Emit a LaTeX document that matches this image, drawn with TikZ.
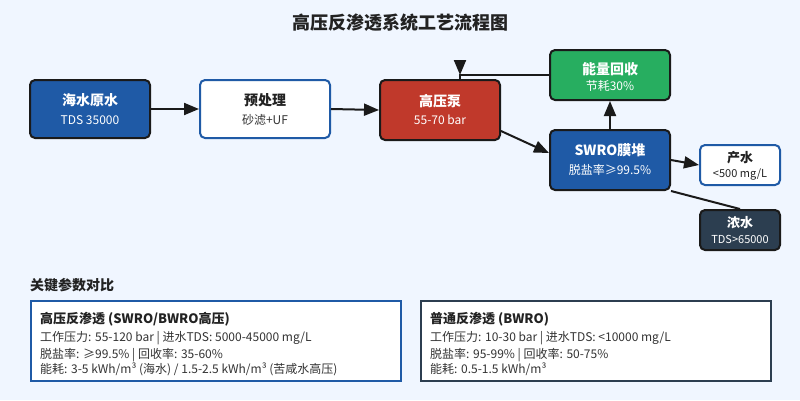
\documentclass[tikz,border=0pt]{standalone}
\usepackage{fontspec}
\setmainfont{Noto Sans CJK SC}
\usetikzlibrary{arrows.meta,calc}
\definecolor{bg}{HTML}{F0F6FF}
\definecolor{cblue}{HTML}{1F5AA6}
\definecolor{cred}{HTML}{C0392B}
\definecolor{cgreen}{HTML}{27AE60}
\definecolor{cdark}{HTML}{2C3E50}
\definecolor{cedge}{HTML}{1A1A1A}
\definecolor{ctext}{HTML}{222222}
\definecolor{cline}{HTML}{333333}
\begin{document}
\begin{tikzpicture}[x=1pt,y=-1pt,
  box/.style={draw=cedge,line width=2pt,rounded corners=5pt,inner sep=0pt},
  bluebox/.style={box,fill=cblue},
  whitebox/.style={box,fill=white,draw=cblue},
  redbox/.style={box,fill=cred},
  greenbox/.style={box,fill=cgreen},
  darkbox/.style={box,fill=cdark},
  ttl/.style={font=\bfseries\fontsize{14}{16}\selectfont,inner sep=0pt},
  sub/.style={font=\fontsize{12}{14}\selectfont,inner sep=0pt},
  ttls/.style={font=\bfseries\fontsize{13}{15}\selectfont,inner sep=0pt},
  subs/.style={font=\fontsize{11}{13}\selectfont,inner sep=0pt},
  conn/.style={draw=cedge,line width=2pt},
  arr/.style={conn,-{Triangle[length=15pt,width=12pt]}},
  panel/.style={draw,line width=2pt,fill=white,inner sep=0pt},
  ptitle/.style={font=\bfseries\fontsize{13}{15}\selectfont,anchor=base west,inner sep=0pt,text=ctext},
  pline/.style={font=\fontsize{12}{14}\selectfont,anchor=base west,inner sep=0pt,text=cline},
]
\fill[bg] (0,0) rectangle (800,400);
\useasboundingbox (0,0) rectangle (800,400);

\node[font=\bfseries\fontsize{18}{20}\selectfont,text=ctext,inner sep=0pt] (title) at (400,23) {高压反渗透系统工艺流程图};

% boxes
\node[bluebox,minimum width=120pt,minimum height=58pt] (sea) at (90,109) {};
\node[ttl,text=white,yshift=9pt] (seat) at (sea.center) {海水原水};
\node[sub,text=white,yshift=-11pt] (seas) at (sea.center) {TDS 35000};

\node[whitebox,minimum width=130pt,minimum height=58pt] (pre) at (265,109) {};
\node[ttl,text=ctext,yshift=9pt] (pret) at (pre.center) {预处理};
\node[sub,text=cline,yshift=-11pt] (pres) at (pre.center) {砂滤+UF};

\node[redbox,minimum width=120pt,minimum height=60pt] (pump) at (440,110) {};
\node[ttl,text=white,yshift=9pt] (pumpt) at (pump.center) {高压泵};
\node[sub,text=white,yshift=-10pt] (pumps) at (pump.center) {55-70 bar};

\node[greenbox,minimum width=120pt,minimum height=50pt] (eng) at (610,75) {};
\node[ttl,text=white,yshift=6pt] (engt) at (eng.center) {能量回收};
\node[sub,text=white,yshift=-11pt] (engs) at (eng.center) {节耗30\%};

\node[bluebox,minimum width=120pt,minimum height=60pt] (swro) at (610,160) {};
\node[ttl,text=white,yshift=10pt] (swrot) at (swro.center) {SWRO膜堆};
\node[sub,text=white,yshift=-10pt] (swros) at (swro.center) {脱盐率≥99.5\%};

\node[whitebox,minimum width=80pt,minimum height=40pt] (prod) at (740,165) {};
\node[ttls,text=ctext,yshift=7pt] (prodt) at (prod.center) {产水};
\node[subs,text=ctext,yshift=-10pt] (prods) at (prod.center) {<500 mg/L};

\node[darkbox,minimum width=80pt,minimum height=40pt] (brine) at (740,230) {};
\node[ttls,text=white,yshift=7pt] (brinet) at (brine.center) {浓水};
\node[subs,text=white,yshift=-9pt] (brines) at (brine.center) {TDS>65000};

% connectors
\draw[arr] (sea.east) -- (pre.west);
\draw[arr] (pre.east) -- (pump.west);
\draw[arr] ($(pump.south east)+(0,-10)$) -- ($(swro.west)+(0,-7)$);
\draw[arr] (swro.north) -- (eng.south);
\draw[arr] (swro.east) -- (prod.west);
\draw[conn] (swro.south east) -- (brine.north);
\coordinate (fbk) at ($(pump.north)+(20,0)$);
\coordinate (fbkA) at ($(pump.north)+(20,-18)$);
\coordinate (fbkB) at ($(pump.north)+(20,-4)$);
\draw[conn] (eng.west) -| (fbk);
\draw[arr] (fbkA) -- (fbkB);

% comparison
\node[font=\bfseries\fontsize{14}{16}\selectfont,text=ctext,anchor=west,inner sep=0pt] (cmp) at (30,285) {关键参数对比};

\node[panel,draw=cblue,minimum width=370pt,minimum height=80pt,anchor=north west] (p1) at (30,300) {};
\node[ptitle] (p1t) at (40,323) {高压反渗透 (SWRO/BWRO高压)};
\node[pline] (p1a) at (40,341) {工作压力: 55-120 bar | 进水TDS: 5000-45000 mg/L};
\node[pline] (p1b) at (40,358) {脱盐率: ≥99.5\% | 回收率: 35-60\%};
\node[pline] (p1c) at (40,373) {能耗: 3-5 kWh/m³ (海水) / 1.5-2.5 kWh/m³ (苦咸水高压)};

\node[panel,draw=cdark,minimum width=350pt,minimum height=80pt,anchor=north west] (p2) at (420,300) {};
\node[ptitle] (p2t) at (430,323) {普通反渗透 (BWRO)};
\node[pline] (p2a) at (430,341) {工作压力: 10-30 bar | 进水TDS: <10000 mg/L};
\node[pline] (p2b) at (430,358) {脱盐率: 95-99\% | 回收率: 50-75\%};
\node[pline] (p2c) at (430,373) {能耗: 0.5-1.5 kWh/m³};
\end{tikzpicture}
\end{document}
